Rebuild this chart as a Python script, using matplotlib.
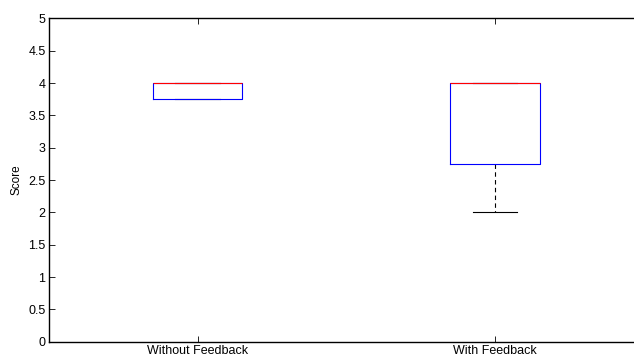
import matplotlib.pyplot as plt

labels = ['Without Feedback', 'With Feedback']
q1 = [3.75, 2.75]
med = [4.0, 4.0]
q3 = [4.0, 4.0]
whislo = [3.75, 2.0]
whishi = [4.0, 4.0]

plt.rcParams['font.family'] = ['Liberation Sans', 'DejaVu Sans']

fig = plt.figure(figsize=(6.34, 3.59), dpi=100)
ax = fig.add_axes([0.0773, 0.048, 0.938, 0.901])

stats = []
for i in range(len(labels)):
    stats.append({'label': labels[i], 'q1': q1[i], 'med': med[i], 'q3': q3[i],
                  'whislo': whislo[i], 'whishi': whishi[i], 'fliers': []})

ax.bxp(stats, positions=[1, 2], widths=0.3, showfliers=False,
       boxprops=dict(color='blue', linewidth=0.8, zorder=3),
       medianprops=dict(color='red', linewidth=0.8, zorder=4),
       whiskerprops=dict(color='black', linestyle=(0, (4, 3)), linewidth=0.8, zorder=2),
       capprops=dict(color='black', linewidth=0.8, zorder=2), capwidths=0.15)

ax.set_xlim(0.5, 2.5)
ax.set_ylim(0, 5)
ax.set_yticks([0, 0.5, 1, 1.5, 2, 2.5, 3, 3.5, 4, 4.5, 5])
ax.set_yticklabels(['0', '0.5', '1', '1.5', '2', '2.5', '3', '3.5', '4', '4.5', '5'])
ax.set_ylabel('Score', fontsize=8.5, labelpad=4)
ax.tick_params(direction='in', length=4, width=0.6, labelsize=9, pad=2.5,
               top=True, right=True)
for s in ax.spines.values():
    s.set_linewidth(1.0)

plt.savefig('out.png', dpi=100)
